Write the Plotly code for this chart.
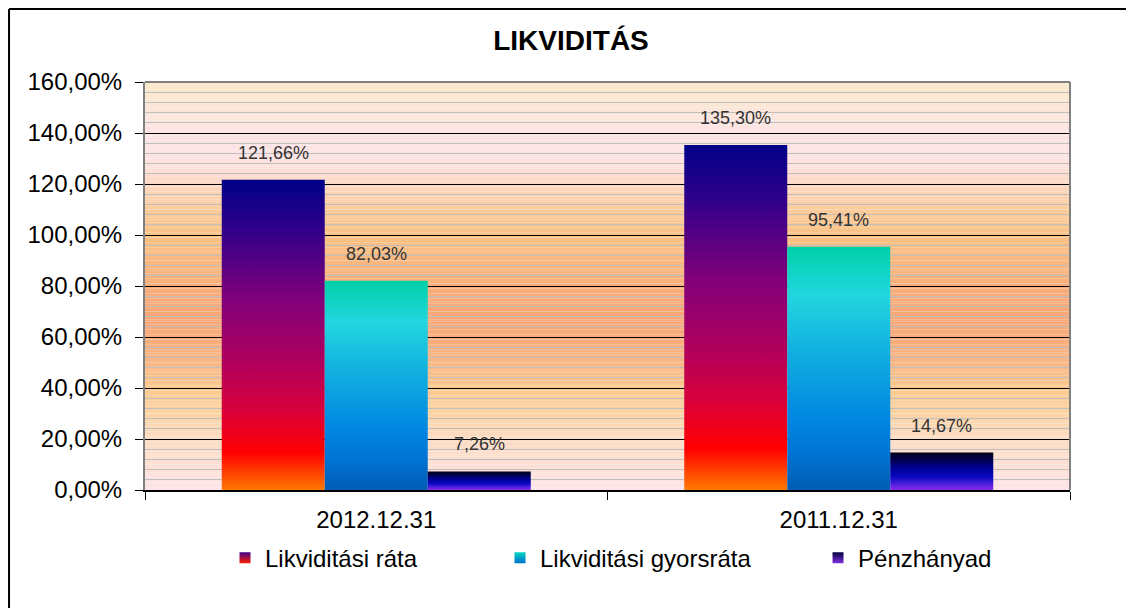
import plotly.graph_objects as go

# data
categories = ["2012.12.31", "2011.12.31"]
series_names = ["Likviditási ráta", "Likviditási gyorsráta", "Pénzhányad"]
likviditasi_rata = [1.2166, 1.3530]
gyorsrata = [0.8203, 0.9541]
penzhanyad = [0.0726, 0.1467]
series_values = [likviditasi_rata, gyorsrata, penzhanyad]

# gradients for the bars, bottom (0) to top (1)
bar_scales = [
    [[0, "#ff7a00"], [0.12, "#ff0000"], [0.26, "#d8003c"], [0.41, "#b0005c"],
     [0.61, "#82007a"], [0.84, "#30008a"], [1, "#000088"]],
    [[0, "#005cb4"], [0.15, "#0074d4"], [0.3, "#0088e2"], [0.57, "#12b0e0"],
     [0.8, "#22d6e0"], [0.9, "#10d4c4"], [1, "#00d0a8"]],
    [[0, "#8a2be2"], [0.15, "#5020e0"], [0.35, "#0808c0"], [0.6, "#000090"],
     [0.85, "#000040"], [1, "#000018"]],
]
legend_colors = [("#40008a", "#ff2000"), ("#00d8c0", "#0070d0"), ("#000040", "#8030e0")]

# plot background bands (value on y axis -> colour)
bg_stops = [
    (0.0, "#fde4e8"), (0.1, "#fde0d4"), (0.2, "#fcdcc4"), (0.3, "#fbd4a4"),
    (0.4, "#fac890"), (0.5, "#f9b886"), (0.6, "#f8aa7a"), (0.7, "#f8a878"),
    (0.8, "#f8ae7c"), (0.9, "#f9b880"), (1.0, "#fac284"), (1.1, "#fbcc9c"),
    (1.2, "#fcd8c4"), (1.3, "#fde4e4"), (1.4, "#fde4e4"), (1.5, "#fce6d8"),
    (1.6, "#fbe8c8"),
]

BAR_W = 0.2227
W, H = 1126, 600


def hex2rgb(h):
    return tuple(int(h[i:i + 2], 16) for i in (1, 3, 5))


def bg_color(v):
    for (a, ca), (b, cb) in zip(bg_stops[:-1], bg_stops[1:]):
        if a <= v <= b:
            t = (v - a) / (b - a)
            r = [round(p + (q - p) * t) for p, q in zip(hex2rgb(ca), hex2rgb(cb))]
            return "rgb(%d,%d,%d)" % tuple(r)
    return bg_stops[-1][1]


fig = go.Figure()

annotations = []
for s, (name, vals) in enumerate(zip(series_names, series_values)):
    for c, v in enumerate(vals):
        xc = c + (s - 1) * BAR_W
        x0, x1 = xc - BAR_W / 2, xc + BAR_W / 2
        fig.add_trace(go.Scatter(
            x=[x0, x0, x1, x1, x0], y=[0, v, v, 0, 0],
            mode="lines", line=dict(width=0), fill="toself",
            fillgradient=dict(type="vertical", colorscale=bar_scales[s]),
            name=name, showlegend=False, hoverinfo="text",
            text=f"{name}: {v*100:.2f}%".replace(".", ","),
        ))
        annotations.append(dict(
            x=xc, y=v, xref="x", yref="y", showarrow=False,
            text=f"{v*100:.2f}".replace(".", ",") + "%",
            yshift=27, yanchor="middle",
            font=dict(size=18, color="#333333"),
        ))

# legend entries, one legend each so they sit where the original has them
legend_x = [0.0865, 0.3838, 0.7276]
for s, name in enumerate(series_names):
    top, bottom = legend_colors[s]
    fig.add_trace(go.Scatter(
        x=[None], y=[None], mode="markers", name=name,
        marker=dict(symbol="square", size=11, color=top,
                    gradient=dict(type="vertical", color=bottom)),
        legend="legend" if s == 0 else f"legend{s+1}",
    ))

shapes = []
step = 0.01
n = int(round(1.6 / step))
for i in range(n):
    y0 = i * step
    shapes.append(dict(type="rect", xref="paper", yref="y", x0=0, x1=1,
                       y0=y0, y1=y0 + step, line=dict(width=0),
                       fillcolor=bg_color(y0 + step / 2), layer="below"))
# plot frame (top and right)
shapes.append(dict(type="line", xref="paper", yref="paper", x0=0, x1=1, y0=1, y1=1,
                   line=dict(color="#808080", width=2), layer="above"))
shapes.append(dict(type="line", xref="paper", yref="paper", x0=1, x1=1, y0=0, y1=1,
                   line=dict(color="#808080", width=2), layer="above"))
# outer chart border (left and top visible)
shapes.append(dict(type="line", xref="paper", yref="paper", x0=-0.147, x1=-0.147,
                   y0=-0.35, y1=1.179, line=dict(color="black", width=2)))
shapes.append(dict(type="line", xref="paper", yref="paper", x0=-0.147, x1=1.1,
                   y0=1.179, y1=1.179, line=dict(color="black", width=2)))

legend_common = dict(orientation="h", yanchor="middle", y=-0.167, xanchor="left",
                     font=dict(size=24, color="black"), bgcolor="rgba(0,0,0,0)")

fig.update_layout(
    width=W, height=H,
    margin=dict(l=137, r=64, t=74, b=118),
    paper_bgcolor="white", plot_bgcolor="white",
    font=dict(family="Liberation Sans, Arial, sans-serif", color="black"),
    separators=", ",
    title=dict(text="LIKVIDITÁS", x=0.5, xref="container", xanchor="center",
               y=1 - 32 / H, yanchor="middle",
               font=dict(size=28, weight="bold", color="black")),
    xaxis=dict(range=[-0.5, 1.5], tickvals=list(range(len(categories))),
               ticktext=categories, ticks="", showgrid=False, zeroline=False,
               showline=True, linecolor="black", linewidth=2,
               tickfont=dict(size=24), ticklabelstandoff=7,
               minor=dict(tickvals=[-0.5, 0.5, 1.5], ticks="outside", ticklen=8,
                          tickcolor="black", showgrid=False)),
    yaxis=dict(range=[0, 1.6], dtick=0.2, tickformat=".2%", ticks="outside",
               ticklen=8, tickcolor="black", showline=True, linecolor="#808080",
               linewidth=2, zeroline=False, showgrid=True, gridcolor="black",
               gridwidth=1, tickfont=dict(size=24), ticklabelstandoff=8,
               minor=dict(dtick=0.04, showgrid=True, gridcolor="#bfbfbf", gridwidth=1)),
    legend=dict(x=legend_x[0], **legend_common),
    legend2=dict(x=legend_x[1], **legend_common),
    legend3=dict(x=legend_x[2], **legend_common),
    shapes=shapes,
    annotations=annotations,
    hovermode="closest",
)

fig.write_html("out.html")
